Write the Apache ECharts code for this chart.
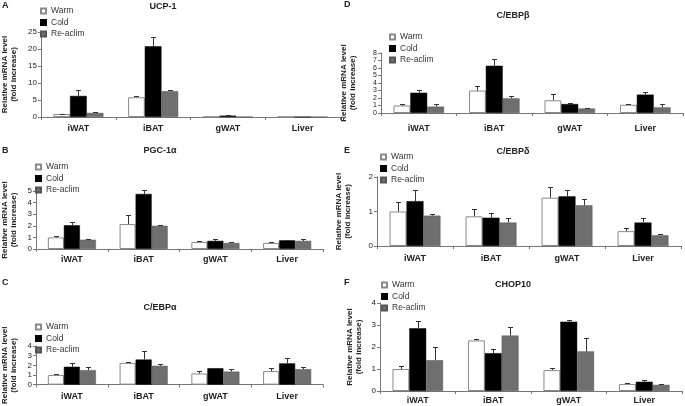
<!DOCTYPE html>
<html>
<head>
<meta charset="utf-8">
<script src="https://cdn.jsdelivr.net/npm/echarts@6/dist/echarts.min.js"></script>
<style>html,body{margin:0;padding:0;background:#fff}#c{width:685px;height:406px}</style>
</head>
<body>
<div id="c"></div>
<script>
// ---- data ----
var categories = ['iWAT', 'iBAT', 'gWAT', 'Liver'];
var seriesNames = ['Warm', 'Cold', 'Re-aclim'];

// Panel A: UCP-1
var ucp1Warm = [0.9, 5.8, 0.05, 0.03];
var ucp1WarmSem = [0.1, 0.4, 0, 0];
var ucp1Cold = [6.2, 20.8, 0.4, 0.03];
var ucp1ColdSem = [1.8, 2.7, 0.2, 0];
var ucp1Re = [1.2, 7.6, 0.05, 0.03];
var ucp1ReSem = [0.2, 0.3, 0, 0];
var ucp1Ticks = [0, 25, 5];

// Panel B: PGC-1a
var pgcWarm = [1.0, 2.15, 0.6, 0.52];
var pgcWarmSem = [0.1, 0.75, 0.05, 0.08];
var pgcCold = [2.05, 4.75, 0.7, 0.75];
var pgcColdSem = [0.3, 0.35, 0.2, 0.05];
var pgcRe = [0.8, 2.0, 0.52, 0.7];
var pgcReSem = [0.1, 0.1, 0.08, 0.15];
var pgcTicks = [0, 5, 1];

// Panel C: C/EBPa
var cebpaWarm = [1.0, 2.25, 1.15, 1.4];
var cebpaWarmSem = [0.05, 0.1, 0.25, 0.3];
var cebpaCold = [1.85, 2.6, 1.7, 2.2];
var cebpaColdSem = [0.4, 0.85, 0.05, 0.55];
var cebpaRe = [1.5, 1.95, 1.35, 1.6];
var cebpaReSem = [0.35, 0.2, 0.25, 0.25];
var cebpaTicks = [0, 4, 1];

// Panel D: C/EBPb
var cebpbWarm = [1.0, 3.0, 1.7, 1.1];
var cebpbWarmSem = [0.15, 0.6, 0.9, 0.15];
var cebpbCold = [2.7, 6.3, 1.2, 2.45];
var cebpbColdSem = [0.35, 0.95, 0.15, 0.4];
var cebpbRe = [0.85, 1.95, 0.6, 0.75];
var cebpbReSem = [0.4, 0.35, 0.1, 0.4];
var cebpbTicks = [0, 8, 1];

// Panel E: C/EBPd
var cebpdWarm = [1.0, 0.86, 1.4, 0.43];
var cebpdWarmSem = [0.28, 0.2, 0.32, 0.09];
var cebpdCold = [1.3, 0.82, 1.44, 0.68];
var cebpdColdSem = [0.33, 0.13, 0.19, 0.12];
var cebpdRe = [0.88, 0.68, 1.18, 0.31];
var cebpdReSem = [0.06, 0.12, 0.17, 0.03];
var cebpdTicks = [0, 2, 1];

// Panel F: CHOP10
var chopWarm = [1.0, 2.3, 0.95, 0.32];
var chopWarmSem = [0.15, 0.05, 0.1, 0.04];
var chopCold = [2.85, 1.72, 3.15, 0.42];
var chopColdSem = [0.35, 0.21, 0.1, 0.08];
var chopRe = [1.4, 2.52, 1.8, 0.28];
var chopReSem = [0.62, 0.41, 0.6, 0.04];
var chopTicks = [0, 4, 1];

// ---- layout ----
var FONT = 'Liberation Sans, Arial, sans-serif';
var panels = [
  {letter:'A', title:'UCP-1', vals:[ucp1Warm,ucp1Cold,ucp1Re], sems:[ucp1WarmSem,ucp1ColdSem,ucp1ReSem], ticks:ucp1Ticks,
   grid:{left:38, top:32, width:302, height:85}, nameGap:23, labelMargin:7, legend:{left:40, top:6}, yFont:8,
   titlePos:[163,7], letterPos:[2,6]},
  {letter:'B', title:'PGC-1\u03b1', vals:[pgcWarm,pgcCold,pgcRe], sems:[pgcWarmSem,pgcColdSem,pgcReSem], ticks:pgcTicks,
   grid:{left:32, top:191, width:291, height:58}, nameGap:18, labelMargin:6, legend:{left:35, top:162}, yFont:8,
   titlePos:[160,151], letterPos:[2,151]},
  {letter:'C', title:'C/EBP\u03b1', vals:[cebpaWarm,cebpaCold,cebpaRe], sems:[cebpaWarmSem,cebpaColdSem,cebpaReSem], ticks:cebpaTicks,
   grid:{left:31, top:346, width:292, height:42}, nameGap:18, labelMargin:7, legend:{left:35, top:322}, yFont:8,
   titlePos:[160,308], letterPos:[2,283]},
  {letter:'D', title:'C/EBP\u03b2', vals:[cebpbWarm,cebpbCold,cebpbRe], sems:[cebpbWarmSem,cebpbColdSem,cebpbReSem], ticks:cebpbTicks,
   grid:{left:381, top:53, width:302, height:60}, nameGap:24, labelMargin:11, legend:{left:389, top:32}, yFont:7,
   titlePos:[513,16], letterPos:[344,5]},
  {letter:'E', title:'C/EBP\u03b4', vals:[cebpdWarm,cebpdCold,cebpdRe], sems:[cebpdWarmSem,cebpdColdSem,cebpdReSem], ticks:cebpdTicks,
   grid:{left:377, top:177, width:304, height:69}, nameGap:25, labelMargin:8, legend:{left:380, top:152}, yFont:8,
   titlePos:[513,152], letterPos:[344,151]},
  {letter:'F', title:'CHOP10', vals:[chopWarm,chopCold,chopRe], sems:[chopWarmSem,chopColdSem,chopReSem], ticks:chopTicks,
   grid:{left:380, top:303, width:302, height:88}, nameGap:17, labelMargin:5, legend:{left:381, top:280}, yFont:8,
   titlePos:[513,285], letterPos:[344,283]}
];

var barStyles = [
  {color:'#ffffff', borderColor:'#8a8a8a', borderWidth:1},
  {color:'#000000', borderColor:'#000000', borderWidth:0.5},
  {color:'#6f6f6f', borderColor:'#555555', borderWidth:0.5}
];
var CAT_GAP = 0.33;

function errRender(params, api) {
  var i = api.value(0), v = api.value(1), e = api.value(2), off = api.value(3);
  if (!(e > 0)) return null;
  var catW = api.size([1, 0])[0];
  var bw = catW * (1 - CAT_GAP) / 3;
  var p0 = api.coord([i, v]);
  var p1 = api.coord([i, v + e]);
  var x = Math.round(p0[0] + off * bw) + 0.5;
  var y1 = Math.round(p1[1]) + 0.5;
  var st = {stroke:'#333', lineWidth:1};
  return {type:'group', children:[
    {type:'line', shape:{x1:x, y1:p0[1], x2:x, y2:y1}, style:st},
    {type:'line', shape:{x1:x - 2.5, y1:y1, x2:x + 2.5, y2:y1}, style:st}
  ]};
}

var grids = [], xAxes = [], yAxes = [], series = [], legends = [], graphics = [];
panels.forEach(function(p, k) {
  grids.push(p.grid);
  xAxes.push({type:'category', gridIndex:k, data:categories,
    axisLine:{lineStyle:{color:'#777', width:1}},
    axisTick:{show:true, length:3, lineStyle:{color:'#777'}},
    axisLabel:{fontFamily:FONT, fontSize:9, fontWeight:'bold', color:'#222', margin:p.labelMargin}
  });
  yAxes.push({type:'value', gridIndex:k, min:p.ticks[0], max:p.ticks[1], interval:p.ticks[2],
    name:'Relative mRNA level\n(fold increase)', nameLocation:'middle', nameGap:p.nameGap,
    nameTextStyle:{fontFamily:FONT, fontSize:8, fontWeight:'bold', color:'#222', lineHeight:8.5},
    axisLine:{show:true, lineStyle:{color:'#777', width:1}},
    axisTick:{show:true, length:3, lineStyle:{color:'#777'}},
    splitLine:{show:false},
    axisLabel:{fontFamily:FONT, fontSize:p.yFont, color:'#222', margin:4, showMinLabel:true, showMaxLabel:true, hideOverlap:false}
  });
  for (var s = 0; s < 3; s++) {
    series.push({type:'bar', name:seriesNames[s], xAxisIndex:k, yAxisIndex:k,
      data:p.vals[s], barGap:'0%', barCategoryGap:(CAT_GAP*100)+'%',
      itemStyle:barStyles[s], animation:false, emphasis:{disabled:true}});
  }
  for (var s2 = 0; s2 < 3; s2++) {
    var d = p.vals[s2].map(function(v, i) { return [i, v, p.sems[s2][i], s2 - 1]; });
    series.push({type:'custom', name:seriesNames[s2] + ' err', xAxisIndex:k, yAxisIndex:k,
      renderItem:errRender, data:d, z:5, animation:false, silent:true,
      encode:{x:0, y:1}});
  }
  legends.push({data:seriesNames, orient:'vertical', left:p.legend.left, top:p.legend.top, padding:0,
    itemWidth:5, itemHeight:5, itemGap:1.5, icon:'rect', selectedMode:false,
    textStyle:{fontFamily:FONT, fontSize:8.5, color:'#333', lineHeight:10}});
  graphics.push({type:'text', x:p.titlePos[0], y:p.titlePos[1], style:{text:p.title,
    fontFamily:FONT, fontSize:9, fontWeight:'bold', fill:'#222', textAlign:'center', textVerticalAlign:'middle'}});
  graphics.push({type:'text', left:p.letterPos[0], top:p.letterPos[1] - 5, style:{text:p.letter,
    fontFamily:FONT, fontSize:9, fontWeight:'bold', fill:'#222'}});
});

var chart = echarts.init(document.getElementById('c'), null, {renderer:'canvas'});
chart.setOption({
  animation:false,
  backgroundColor:'#fff',
  grid:grids, xAxis:xAxes, yAxis:yAxes, series:series, legend:legends, graphic:graphics
});
</script>
</body>
</html>
